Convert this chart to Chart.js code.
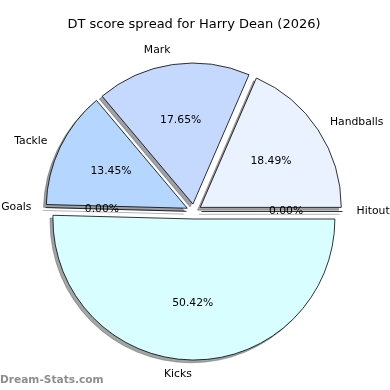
<!DOCTYPE html>
<html lang="en">
<head>
<meta charset="UTF-8">
<title>DT score spread</title>
<script src="https://cdn.jsdelivr.net/npm/chart.js@4.4.1/dist/chart.umd.min.js"></script>
<style>
    html, body { margin: 0; padding: 0; background: #fff; }
    #wrap { width: 390px; height: 390px; }
</style>
</head>
<body>
<div id="wrap"><canvas id="pie" width="390" height="390"></canvas></div>
<script>
// slices listed clockwise starting from 3 o'clock
const categories = ['Kicks', 'Goals', 'Tackle', 'Mark', 'Handballs', 'Hitout'];
const scores = [60, 0, 16, 21, 22, 0];
const sliceColors = ['#d9feff', '#c2d6ff', '#b5d6ff', '#c5d9ff', '#eaf1ff', '#e2ecff'];
const chartTitle = 'DT score spread for Harry Dean (2026)';
const watermark = 'Dream-Stats.com';

const EXPLODE = 7.5;   // px each slice is pushed out
const SHADOW = 2.8;    // px shadow shift (left / down)
const FONT = '"DejaVu Sans", sans-serif';

function midAngle(arc) {
    return (arc.startAngle + arc.endAngle) / 2;
}

function shadowColor(hex) {
    const n = parseInt(hex.slice(1), 16);
    const r = Math.round(((n >> 16) & 255) * 0.3);
    const g = Math.round(((n >> 8) & 255) * 0.3);
    const b = Math.round((n & 255) * 0.3);
    return `rgba(${r},${g},${b},0.5)`;
}

// push every wedge out along its middle angle; zero wedges become a single edge line
const Arc = Chart.elements.ArcElement;
const baseArcDraw = Arc.prototype.draw;
Arc.prototype.draw = function (ctx) {
    const a = midAngle(this);
    const dx = Math.cos(a) * EXPLODE;
    const dy = Math.sin(a) * EXPLODE;
    if (this.circumference === 0) {
        ctx.save();
        ctx.strokeStyle = this.options.borderColor;
        ctx.lineWidth = this.options.borderWidth;
        ctx.beginPath();
        ctx.moveTo(this.x + dx, this.y + dy);
        ctx.lineTo(this.x + dx + Math.cos(a) * this.outerRadius, this.y + dy + Math.sin(a) * this.outerRadius);
        ctx.stroke();
        ctx.restore();
        return;
    }
    ctx.save();
    ctx.translate(dx, dy);
    baseArcDraw.call(this, ctx);
    ctx.restore();
};

const shadowPlugin = {
    id: 'wedgeShadow',
    beforeDatasetsDraw(chart) {
        const ctx = chart.ctx;
        const meta = chart.getDatasetMeta(0);
        meta.data.forEach((arc, i) => {
            const a = midAngle(arc);
            const ox = arc.x + Math.cos(a) * EXPLODE - SHADOW;
            const oy = arc.y + Math.sin(a) * EXPLODE + SHADOW;
            const col = shadowColor(sliceColors[i]);
            ctx.save();
            ctx.fillStyle = col;
            ctx.strokeStyle = col;
            ctx.lineWidth = 0.8;
            ctx.beginPath();
            ctx.moveTo(ox, oy);
            if (arc.circumference === 0) {
                ctx.lineTo(ox + Math.cos(a) * arc.outerRadius, oy + Math.sin(a) * arc.outerRadius);
                ctx.stroke();
            } else {
                ctx.arc(ox, oy, arc.outerRadius, arc.startAngle, arc.endAngle);
                ctx.closePath();
                ctx.fill();
                ctx.stroke();
            }
            ctx.restore();
        });
    }
};

const labelPlugin = {
    id: 'wedgeLabels',
    afterDatasetsDraw(chart) {
        const ctx = chart.ctx;
        const meta = chart.getDatasetMeta(0);
        const total = scores.reduce((s, v) => s + v, 0);
        ctx.save();
        ctx.fillStyle = '#000';
        ctx.font = `10.8px ${FONT}`;
        ctx.textBaseline = 'middle';
        meta.data.forEach((arc, i) => {
            const a = midAngle(arc);
            const cx = arc.x + Math.cos(a) * EXPLODE;
            const cy = arc.y + Math.sin(a) * EXPLODE;
            const R = arc.outerRadius;

            const lx = cx + Math.cos(a) * R * 1.1;
            const ly = cy + Math.sin(a) * R * 1.1;
            ctx.textAlign = Math.cos(a) > 0 ? 'left' : 'right';
            ctx.fillText(categories[i], lx, ly);

            const px = cx + Math.cos(a) * R * 0.6;
            const py = cy + Math.sin(a) * R * 0.6;
            ctx.textAlign = 'center';
            ctx.fillText((scores[i] / total * 100).toFixed(2) + '%', px, py);
        });
        ctx.restore();
    },
    afterDraw(chart) {
        const ctx = chart.ctx;
        ctx.save();
        ctx.fillStyle = '#8e8e8e';
        ctx.font = `bold 10.6px ${FONT}`;
        ctx.textAlign = 'left';
        ctx.textBaseline = 'middle';
        ctx.fillText(watermark, 0, 380);
        ctx.restore();
    }
};

new Chart(document.getElementById('pie'), {
    type: 'pie',
    data: {
        labels: categories,
        datasets: [{
            data: scores,
            backgroundColor: sliceColors,
            borderColor: '#000',
            borderWidth: 0.8,
            offset: 0,
            clip: false
        }]
    },
    options: {
        responsive: false,
        devicePixelRatio: 1,
        animation: false,
        events: [],
        rotation: 90,
        radius: 141,
        layout: { padding: { top: 0, left: 0, right: 2, bottom: 3.6 } },
        plugins: {
            legend: { display: false },
            tooltip: { enabled: false },
            title: {
                display: true,
                text: chartTitle,
                color: '#000',
                font: { family: FONT, size: 13, weight: 'normal' },
                padding: { top: 17, bottom: 4 }
            }
        }
    },
    plugins: [shadowPlugin, labelPlugin]
});
</script>
</body>
</html>
